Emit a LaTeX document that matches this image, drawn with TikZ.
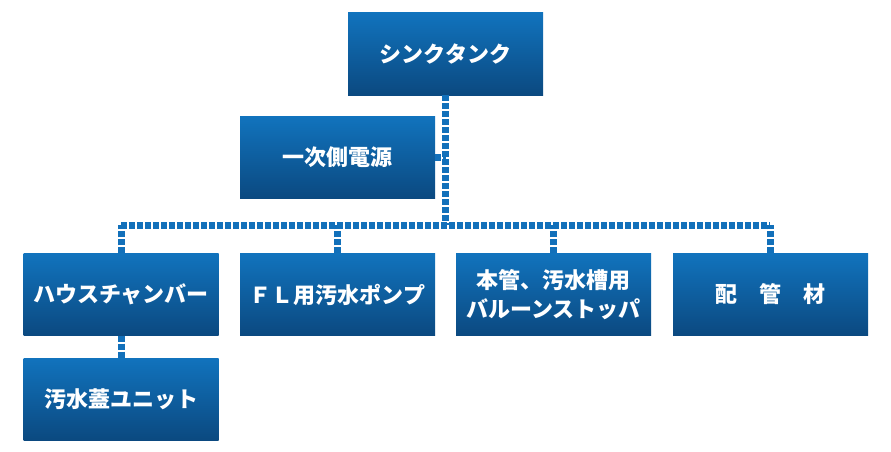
\documentclass[tikz,border=0pt]{standalone}
\usepackage{fontspec}
\setmainfont{Noto Sans CJK JP}
\usepackage{xcolor}
\definecolor{boxtop}{HTML}{1173BD}
\definecolor{boxmid}{HTML}{1067AE}
\definecolor{boxbot}{HTML}{0B4980}
\definecolor{linkblue}{HTML}{1270BA}
\begin{document}
\begin{tikzpicture}[x=1pt, y=-1pt,
  item/.style={minimum width=195pt, minimum height=82pt, inner sep=0pt,
    top color=boxtop, middle color=boxmid, bottom color=boxbot,
    text=white, font=\fontsize{22}{29}\selectfont\bfseries, align=center},
  link/.style={linkblue, line width=7pt, dash pattern=on 6pt off 2pt}]
\useasboundingbox (0,0) rectangle (891,452);
\coordinate (busL) at (121,225);
\coordinate (busR) at (770,225);
\node[item] (tank) at (445.5,54) {シンクタンク};
\node[item] (power) at (337.5,157.5) {一次側電源};
\node[item] (chamber) at (121,294.5) {ハウスチャンバー};
\node[item] (pump) at (337.5,294.5) {ＦＬ用汚水ポンプ};
\node[item] (stopper) at (553.5,294.5) {本管、汚水槽用\\バルーンストッパ};
\node[item] (pipe) at (770.5,294.5) {配　管　材};
\node[item] (cover) at (121,399) {汚水蓋ユニット};
\draw[link] (busL) -- (busR);
\draw[link] (tank.south) -- (tank.south |- busL);
\draw[link] (power.east) -- (power.east -| tank.south);
\foreach \n in {chamber,pump,stopper,pipe}
  \draw[link] (\n.north) -- (\n.north |- busL);
\draw[link] (chamber.south) -- (cover.north);
\end{tikzpicture}
\end{document}
